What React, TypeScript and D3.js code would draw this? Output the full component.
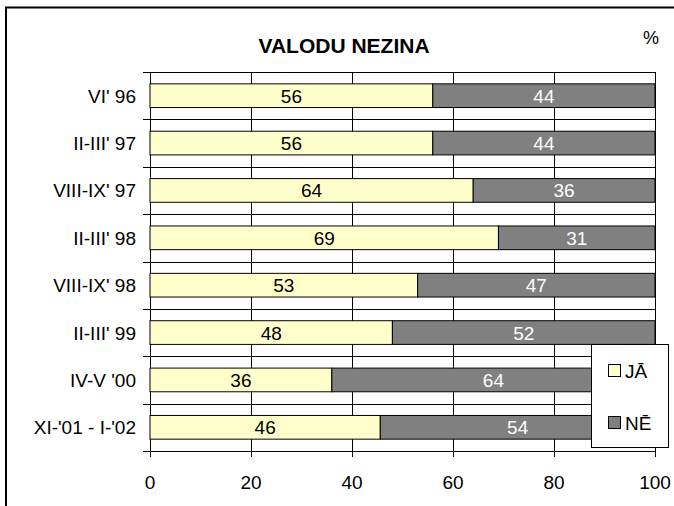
import React from "react";
import * as d3 from "d3";

const categories = ["VI' 96", "II-III' 97", "VIII-IX' 97", "II-III' 98", "VIII-IX' 98", "II-III' 99", "IV-V '00", "XI-'01 - I-'02"];
const jaValues = [56, 56, 64, 69, 53, 48, 36, 45.6];
const neValues = [44, 44, 36, 31, 47, 52, 64, 54.4];
const seriesNames = ["JĀ", "NĒ"];
const xTicks = [0, 20, 40, 60, 80, 100];
const title = "VALODU NEZINA";

const W = 674;
const H = 506;
const FONT = "Arial, 'Liberation Sans', sans-serif";

export default function App() {
  const left = 150, right = 655, top = 72, bottom = 451;
  const x = d3.scaleLinear().domain([0, 100]).range([left, right]);
  const y = d3.scaleBand<string>().domain(categories).range([top, bottom]).paddingInner(0.5).paddingOuter(0.25);
  const step = y.step();
  const bw = y.bandwidth();
  const colors = ["#FFFFCC", "#808080"];
  const textColors = ["#000", "#fff"];

  const boundaries = d3.range(categories.length + 1).map((i) => top + i * step);

  return (
    <svg width={W} height={H} style={{ position: "absolute", left: 0, top: 0, background: "#fff" }} fontFamily={FONT}>
      <rect x={0} y={0} width={W} height={H} fill="#fff" />
      <rect x={6} y={7.5} width={W + 10} height={H + 10} fill="none" stroke="#000" strokeWidth={2} />

      <text x={344} y={53} textAnchor="middle" fontSize={21} fontWeight="bold">{title}</text>
      <text x={651} y={44} textAnchor="middle" fontSize={18}>%</text>

      {/* vertical gridlines */}
      {xTicks.slice(1).map((t) => (
        <line key={"vg" + t} x1={Math.round(x(t)) + 0.5} x2={Math.round(x(t)) + 0.5} y1={top} y2={bottom} stroke="#000" strokeWidth={1} />
      ))}
      {/* horizontal category lines */}
      {boundaries.map((b, i) => (
        <line key={"hb" + i} x1={143} x2={right} y1={Math.round(b) + 0.5} y2={Math.round(b) + 0.5} stroke="#000" strokeWidth={1} />
      ))}
      {/* left axis */}
      <line x1={left + 0.5} x2={left + 0.5} y1={top} y2={bottom + 6} stroke="#000" strokeWidth={1} />
      {/* x ticks */}
      {xTicks.map((t) => (
        <line key={"xt" + t} x1={Math.round(x(t)) + 0.5} x2={Math.round(x(t)) + 0.5} y1={bottom} y2={bottom + 6} stroke="#000" strokeWidth={1} />
      ))}

      {/* bars */}
      {categories.map((c, i) => {
        const y0 = y(c)!;
        const vals = [jaValues[i], neValues[i]];
        let acc = 0;
        return (
          <g key={c}>
            {vals.map((v, s) => {
              const x0 = x(acc);
              const x1 = x(acc + v);
              acc += v;
              return (
                <g key={s}>
                  <rect x={x0} y={y0} width={x1 - x0} height={bw} fill={colors[s]} stroke="#000" strokeWidth={1} />
                  <text x={(x0 + x1) / 2} y={y0 + bw / 2 + 7} textAnchor="middle" fontSize={19} fill={textColors[s]}>
                    {Math.round(v)}
                  </text>
                </g>
              );
            })}
            <text x={136} y={y0 + bw / 2 + 7} textAnchor="end" fontSize={19}>{c}</text>
          </g>
        );
      })}
      {/* plot border right */}
      <line x1={right + 0.5} x2={right + 0.5} y1={top} y2={bottom} stroke="#000" strokeWidth={1} />

      {/* x tick labels */}
      {xTicks.map((t) => (
        <text key={"xl" + t} x={x(t)} y={489} textAnchor="middle" fontSize={19}>{t}</text>
      ))}

      {/* legend */}
      <rect x={591.5} y={344.5} width={77} height={103} fill="#fff" stroke="#000" strokeWidth={1} />
      {seriesNames.map((n, i) => (
        <g key={n}>
          <rect x={608.5} y={364.5 + i * 52} width={12} height={12} fill={colors[i]} stroke="#000" strokeWidth={1} />
          <text x={625} y={378 + i * 52} fontSize={19}>{n}</text>
        </g>
      ))}
    </svg>
  );
}
